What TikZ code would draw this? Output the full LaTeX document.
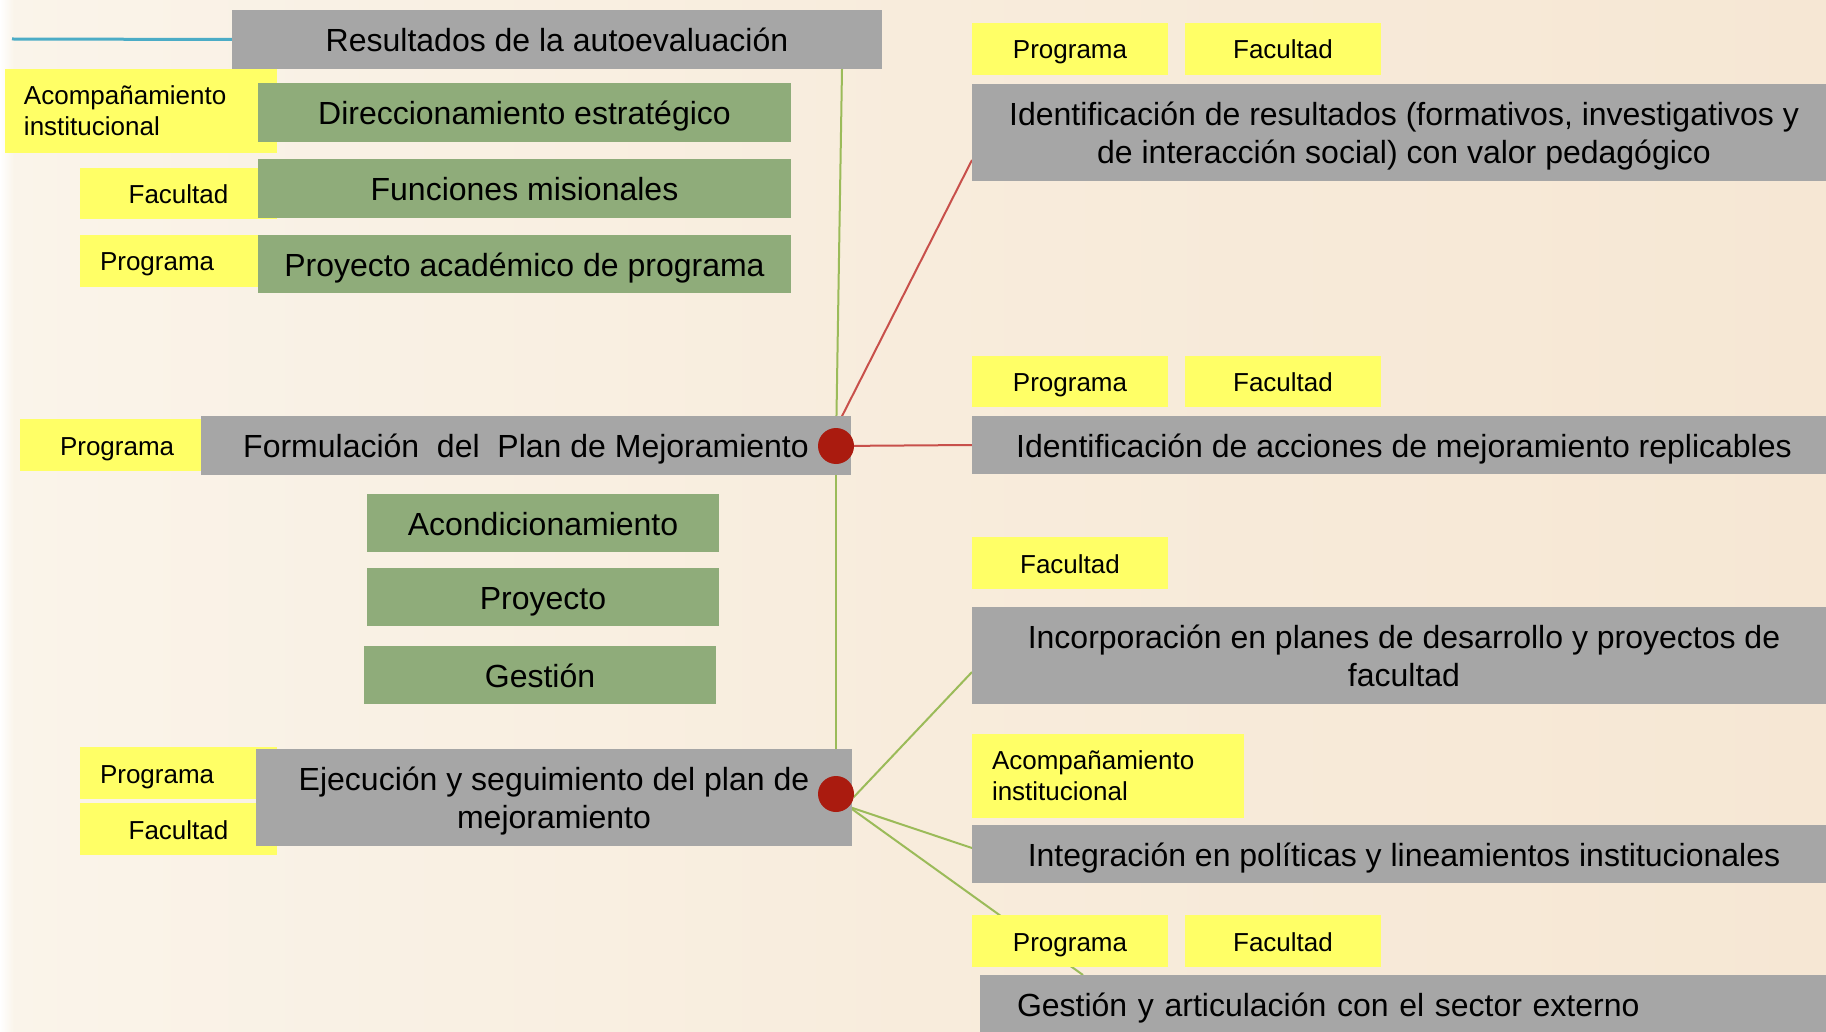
\documentclass[tikz,border=0pt]{standalone}
\usepackage{fontspec}
\setmainfont{Liberation Sans}
\usetikzlibrary{calc}
\definecolor{boxgray}{RGB}{166,166,166}
\definecolor{boxgreen}{RGB}{143,172,122}
\definecolor{ylw}{RGB}{255,255,102}
\definecolor{dotred}{RGB}{170,27,15}
\definecolor{linered}{RGB}{200,80,75}
\definecolor{linegreen}{RGB}{155,187,89}
\definecolor{lineblue}{RGB}{75,172,198}
\definecolor{bgl}{RGB}{250,244,234}
\definecolor{bgm}{RGB}{248,236,220}
\definecolor{bgr}{RGB}{246,231,212}
\newcommand\bigtxt{\fontsize{32}{38}\selectfont}
\newcommand\smtxt{\fontsize{26}{31}\selectfont}
\pgfdeclarelayer{bglayer}
\pgfsetlayers{bglayer,main}
\tikzset{
  base/.style={inner sep=0pt, outer sep=0pt, anchor=north west},
  wh/.style 2 args={minimum width=#1, minimum height=#2},
  graybox/.style={base, fill=boxgray, font=\bigtxt, align=center},
  greenbox/.style={base, fill=boxgreen, font=\bigtxt, align=center},
  ybox/.style={base, fill=ylw, font=\smtxt, align=center},
  yleft/.style={base, fill=ylw, font=\smtxt, align=left, text width=#1},
  gleft/.style={base, fill=boxgray, font=\bigtxt, align=left, text width=#1},
  bone/.style={text height=24.5pt, text depth=0pt},
  sone/.style={text height=20pt, text depth=0pt},
  multi/.style={text depth=0pt},
  dot/.style={circle, fill=dotred, minimum size=36pt, inner sep=0pt, outer sep=0pt},
  gline/.style={draw=linegreen, line width=2pt},
  rline/.style={draw=linered, line width=2pt},
  bline/.style={draw=lineblue, line width=3pt},
}
\begin{document}
\begin{tikzpicture}[x=1pt,y=-1pt]
\useasboundingbox (0,0) rectangle (1826,1032);
\clip (0,0) rectangle (1826,1032);

% ---------- left column: yellow labels ----------
\node[yleft=272pt, minimum height=84pt] (yacL) at (5,69) {\hspace*{19pt}Acompañamiento\\\hspace*{19pt}institucional};
\node[ybox, sone, wh={197pt}{51pt}] (yfacL1) at (80,168) {Facultad};
\node[yleft=197pt, sone, minimum height=52pt] (yprogL1) at (80,235) {\hspace*{20pt}Programa};
\node[yleft=200pt, sone, minimum height=52pt] (yprogL2) at (20,419) {\hspace*{40pt}Programa};
\node[yleft=197pt, sone, minimum height=52pt] (yprogL3) at (80,747) {\hspace*{20pt}Programa};
\node[ybox, sone, wh={197pt}{52pt}] (yfacL3) at (80,803) {Facultad};

% ---------- left column: boxes ----------
\node[graybox, bone, wh={650pt}{59pt}] (res) at (232,10) {Resultados de la autoevaluación};
\node[greenbox, bone, wh={533pt}{59pt}] (gdir) at (258,83) {Direccionamiento estratégico};
\node[greenbox, bone, wh={533pt}{59pt}] (gfun) at (258,159) {Funciones misionales};
\node[greenbox, bone, wh={533pt}{58pt}] (gpap) at (258,235) {Proyecto académico de programa};
\node[graybox, bone, wh={650pt}{59pt}] (form) at (201,416) {Formulación\ \ del\ \ Plan de Mejoramiento};
\node[greenbox, bone, wh={352pt}{58pt}] (gaco) at (367,494) {Acondicionamiento};
\node[greenbox, bone, wh={352pt}{58pt}] (gproy) at (367,568) {Proyecto};
\node[greenbox, bone, wh={352pt}{58pt}] (gges) at (364,646) {Gestión};
\node[graybox, multi, wh={596pt}{97pt}] (ejec) at (256,749) {Ejecución y seguimiento del plan de\\mejoramiento};

% ---------- right column ----------
\node[ybox, sone, wh={196pt}{52pt}] (ypa) at (972,23) {Programa};
\node[ybox, sone, wh={196pt}{52pt}] (yfa) at (1185,23) {Facultad};
\node[graybox, multi, wh={864pt}{97pt}] (idres) at (972,84) {Identificación de resultados (formativos, investigativos y\\de interacción social) con valor pedagógico};
\node[ybox, sone, wh={196pt}{51pt}] (ypb) at (972,356) {Programa};
\node[ybox, sone, wh={196pt}{51pt}] (yfb) at (1185,356) {Facultad};
\node[graybox, bone, wh={864pt}{58pt}] (idacc) at (972,416) {Identificación de acciones de mejoramiento replicables};
\node[ybox, sone, wh={196pt}{52pt}] (yfc) at (972,537) {Facultad};
\node[graybox, multi, wh={864pt}{97pt}] (incorp) at (972,607) {Incorporación en planes de desarrollo y proyectos de\\facultad};
\node[yleft=272pt, minimum height=84pt] (yacR) at (972,734) {\hspace*{20pt}Acompañamiento\\\hspace*{20pt}institucional};
\node[graybox, bone, wh={864pt}{58pt}] (integ) at (972,825) {Integración en políticas y lineamientos institucionales};
\node[ybox, sone, wh={196pt}{52pt}] (ype) at (972,915) {Programa};
\node[ybox, sone, wh={196pt}{52pt}] (yfe) at (1185,915) {Facultad};
\node[gleft=856pt, bone, minimum height=59pt] (gesart) at (980,975) {\hspace*{37pt}Gestión y articulación con el sector externo};

% ---------- hubs ----------
\node[dot] (d1) at (836,446) {};
\node[dot] (d2) at (836,794) {};

\coordinate (blueend) at (12,39);
\coordinate (restap) at (842,69);

\begin{pgfonlayer}{bglayer}
  \fill[left color=bgl, right color=bgr, middle color=bgm] (0,0) rectangle (1826,1032);
  \fill[left color=white, right color=bgl] (0,0) rectangle (14,1032);
  \draw[bline] (blueend) -- (res.west);
  \draw[gline] (restap) -- (d1.center);
  \draw[gline] (d1.center) -- (d2.center);
  \draw[rline] (d1.north) -- ($(idres.south west)+(0,-21)$);
  \draw[rline] (d1.center) -- (idacc.west);
  \draw[gline] (d2.-10) -- ($(incorp.south west)+(0,-32)$);
  \draw[gline] (d2.-45) -- ($(integ.north west)+(0,23)$);
  \draw[gline] (d2.-45) -- ($(gesart.north west)+(103,0)$);
\end{pgfonlayer}
\end{tikzpicture}
\end{document}
